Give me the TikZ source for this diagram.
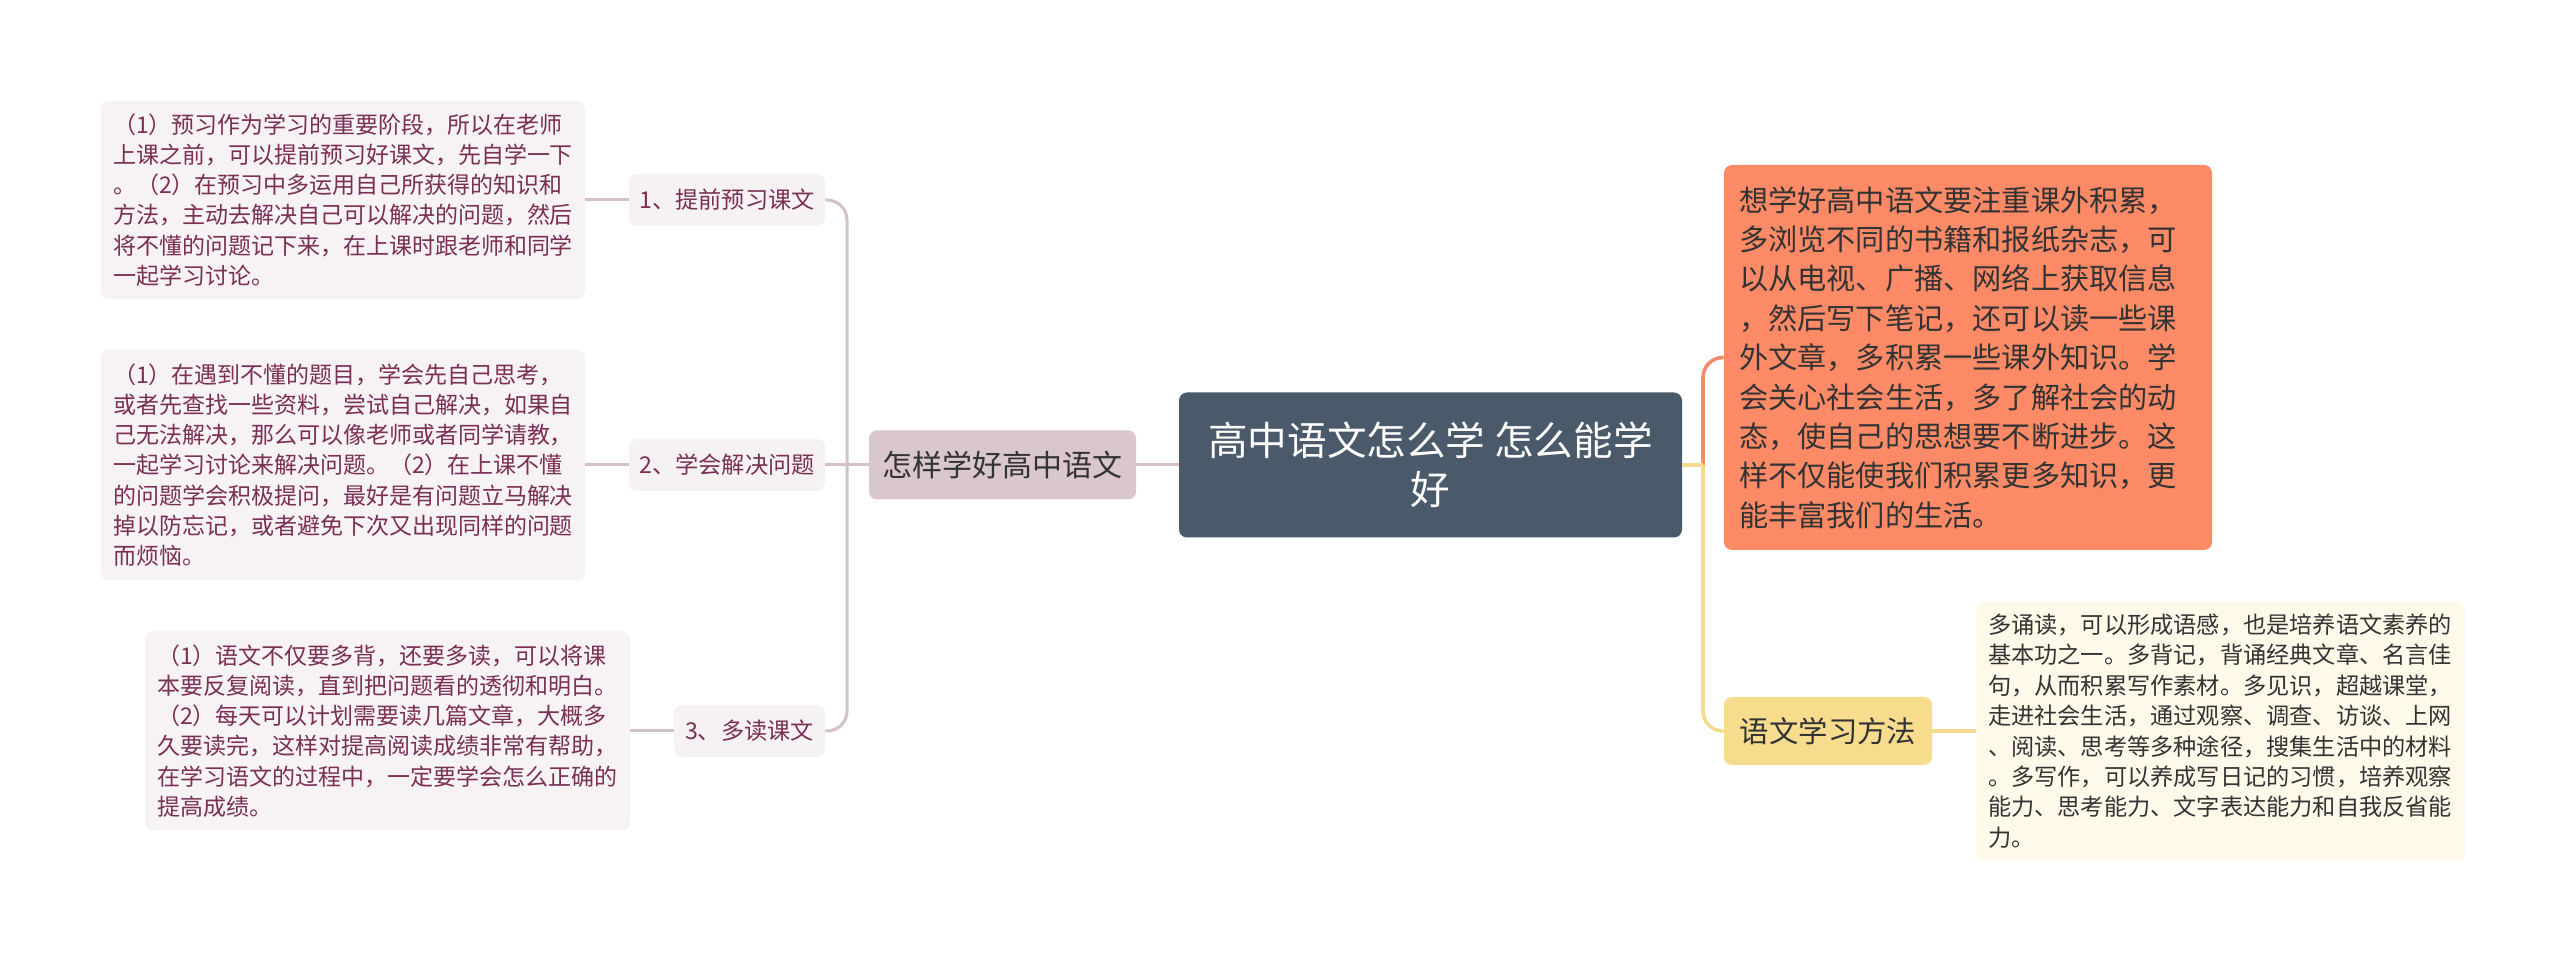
\documentclass[tikz,border=0pt]{standalone}
\usepackage{fontspec}
\setmainfont{Noto Sans CJK SC}
\definecolor{centralfill}{HTML}{4B5A6B}
\definecolor{mainL}{HTML}{DAC6CF}
\definecolor{subfill}{HTML}{F6F1F3}
\definecolor{leaffill}{HTML}{F7F2F4}
\definecolor{maroon}{HTML}{7A2F55}
\definecolor{lline}{HTML}{D4C0C8}
\definecolor{orfill}{HTML}{FC8A67}
\definecolor{orline}{HTML}{F28B6C}
\definecolor{yefill}{HTML}{F7DC8E}
\definecolor{yeline}{HTML}{F5DB8F}
\definecolor{creamfill}{HTML}{FFF9EA}
\definecolor{darktext}{HTML}{333333}
\tikzset{
  box/.style={rounded corners=4pt, inner ysep=0pt, anchor=center},
  leafL/.style={box, fill=leaffill, text=maroon, align=left, inner xsep=6pt,
    font=\fontsize{11.5pt}{15.1pt}\selectfont},
  subL/.style={box, fill=subfill, text=maroon, align=center,
    font=\fontsize{11.6pt}{14pt}\selectfont},
  lconn/.style={draw=lline, line width=1.5pt},
  oconn/.style={draw=orline, line width=1.8pt},
  yconn/.style={draw=yeline, line width=1.8pt},
}
\begin{document}
\begin{tikzpicture}[x=0.5pt,y=-0.5pt]
\useasboundingbox[fill=white] (0,0) rectangle (2560,961);
% central
\node[box, fill=centralfill, text=white, align=center, minimum width=251.5pt, minimum height=72.5pt,
  font=\fontsize{19.8pt}{24.5pt}\selectfont] (c) at (1430.5,465) {高中语文怎么学 怎么能学\\好};
% left main
\node[box, fill=mainL, text=darktext, minimum width=133.5pt, minimum height=34.5pt,
  font=\fontsize{15pt}{18pt}\selectfont] (lm) at (1002.5,465) {怎样学好高中语文};
% sub nodes
\node[subL, minimum width=98pt, minimum height=26pt] (n1) at (727,200) {1、提前预习课文};
\node[subL, minimum width=98pt, minimum height=26pt] (n2) at (727,465) {2、学会解决问题};
\node[subL, minimum width=75.5pt, minimum height=26pt] (n3) at (749.5,731) {3、多读课文};
% leaves
\node[leafL, text width=230pt, minimum height=99pt] (l1) at (343,200) {%
（1）预习作为学习的重要阶段，所以在老师\\
上课之前，可以提前预习好课文，先自学一下\\
。（2）在预习中多运用自己所获得的知识和\\
方法，主动去解决自己可以解决的问题，然后\\
将不懂的问题记下来，在上课时跟老师和同学\\
一起学习讨论。};
\node[leafL, text width=230pt, minimum height=115.5pt] (l2) at (343,465) {%
（1）在遇到不懂的题目，学会先自己思考，\\
或者先查找一些资料，尝试自己解决，如果自\\
己无法解决，那么可以像老师或者同学请教，\\
一起学习讨论来解决问题。（2）在上课不懂\\
的问题学会积极提问，最好是有问题立马解决\\
掉以防忘记，或者避免下次又出现同样的问题\\
而烦恼。};
\node[leafL, text width=230.5pt, minimum height=99.5pt] (l3) at (387.5,731) {%
（1）语文不仅要多背，还要多读，可以将课\\
本要反复阅读，直到把问题看的透彻和明白。\\
（2）每天可以计划需要读几篇文章，大概多\\
久要读完，这样对提高阅读成绩非常有帮助，\\
在学习语文的过程中，一定要学会怎么正确的\\
提高成绩。};
% right side
\node[box, fill=orfill, text=darktext, align=left, inner xsep=7.5pt, text width=229pt,
  minimum height=192.5pt, font=\fontsize{14.6pt}{19.7pt}\selectfont] (or) at (1968,357.5) {%
想学好高中语文要注重课外积累，\\
多浏览不同的书籍和报纸杂志，可\\
以从电视、广播、网络上获取信息\\
，然后写下笔记，还可以读一些课\\
外文章，多积累一些课外知识。学\\
会关心社会生活，多了解社会的动\\
态，使自己的思想要不断进步。这\\
样不仅能使我们积累更多知识，更\\
能丰富我们的生活。};
\node[box, fill=yefill, text=darktext, minimum width=104pt, minimum height=34pt,
  font=\fontsize{14.7pt}{18pt}\selectfont] (ym) at (1828,731) {语文学习方法};
\node[box, fill=creamfill, text=darktext, align=left, inner xsep=6pt, text width=232.5pt,
  minimum height=129pt, font=\fontsize{11.6pt}{15.2pt}\selectfont] (rl) at (2220.5,731) {%
多诵读，可以形成语感，也是培养语文素养的\\
基本功之一。多背记，背诵经典文章、名言佳\\
句，从而积累写作素材。多见识，超越课堂，\\
走进社会生活，通过观察、调查、访谈、上网\\
、阅读、思考等多种途径，搜集生活中的材料\\
。多写作，可以养成写日记的习惯，培养观察\\
能力、思考能力、文字表达能力和自我反省能\\
力。};
% connectors left
\coordinate (tl) at (847,465);
\coordinate (tt) at (847,200);
\coordinate (tb) at (847,731);
\path[lconn] (lm.west) -- (n2.east);
\path[lconn] (c.west) -- (lm.east);
\path[lconn, rounded corners=10pt] (n1.east) -- (tt) -- (tl);
\path[lconn, rounded corners=10pt] (tl) -- (tb) -- (n3.east);
\path[lconn] (l1.east) -- (n1.west);
\path[lconn] (l2.east) -- (n2.west);
\path[lconn] (l3.east) -- (n3.west);
% connectors right
\coordinate (rj) at (1703,465);
\coordinate (rt) at (1703,357.5);
\coordinate (rb) at (1703,731);
\path[oconn, rounded corners=10pt] (rj) -- (rt) -- (or.west);
\path[yconn] (c.east) -- (rj);
\path[yconn, rounded corners=10pt] (rj) -- (rb) -- (ym.west);
\path[yconn] (ym.east) -- (rl.west);
\end{tikzpicture}
\end{document}
